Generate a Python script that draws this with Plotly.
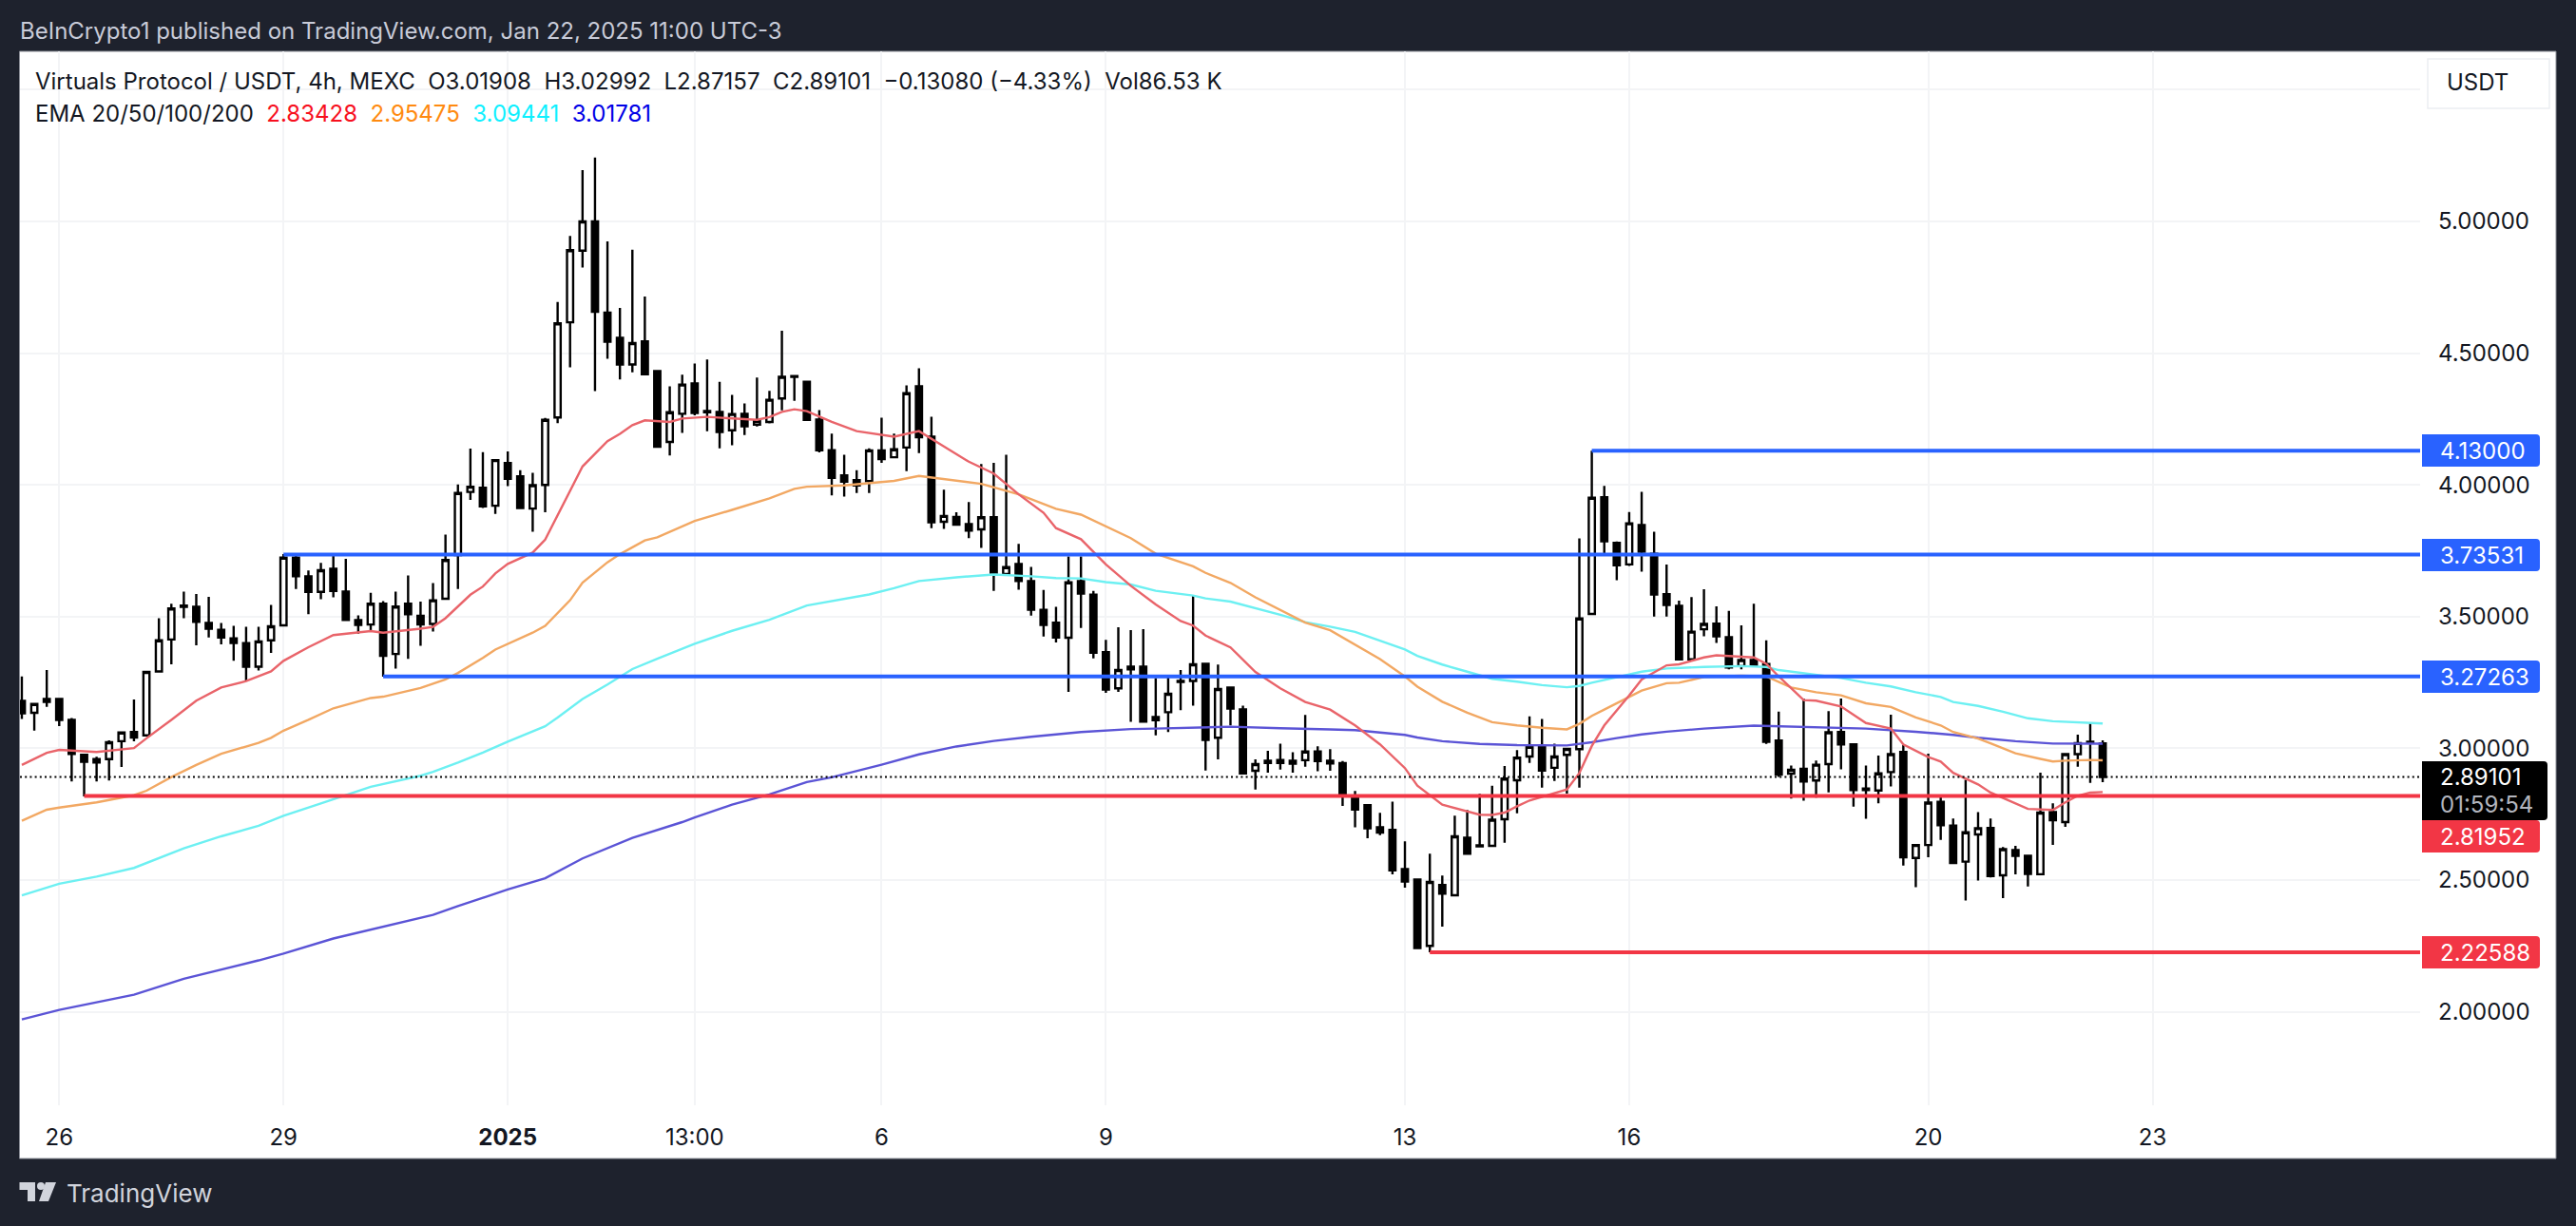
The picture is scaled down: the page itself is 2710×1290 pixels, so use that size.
import pandas as pd
import plotly.graph_objects as go

# 4h candles, Virtuals Protocol / USDT
bar_open = [
    3.180, 3.135, 3.176, 3.187, 3.108, 2.975, 2.959, 2.959, 3.027, 3.062,
    3.049, 3.292, 3.413, 3.542, 3.537, 3.476, 3.450, 3.417, 3.399, 3.310,
    3.410, 3.467, 3.724, 3.653, 3.594, 3.682, 3.595, 3.487, 3.470, 3.549,
    3.358, 3.549, 3.503, 3.472, 3.568, 3.734, 3.973, 3.989, 3.921, 4.083,
    4.032, 3.910, 4.000, 4.256, 4.617, 4.889, 5.000, 4.654, 4.558, 4.457,
    4.545, 4.432, 4.163, 4.270, 4.385, 4.280, 4.277, 4.207, 4.270, 4.229,
    4.239, 4.328, 4.413, 4.391, 4.248, 4.132, 4.036, 4.018, 4.014, 4.131,
    4.105, 4.142, 4.374, 4.183, 3.860, 3.878, 3.851, 3.831, 3.877, 3.662,
    3.700, 3.635, 3.526, 3.477, 3.420, 3.635, 3.583, 3.365, 3.228, 3.310,
    3.310, 3.119, 3.137, 3.256, 3.256, 3.321, 3.040, 3.231, 3.148, 2.915,
    2.944, 2.956, 2.953, 2.955, 2.988, 2.953, 2.944, 2.818, 2.784, 2.700,
    2.690, 2.542, 2.502, 2.250, 2.481, 2.442, 2.661, 2.632, 2.630, 2.731,
    2.879, 2.969, 3.008, 2.926, 2.975, 2.997, 3.510, 3.953, 3.780, 3.698,
    3.848, 3.738, 3.585, 3.541, 3.338, 3.452, 3.473, 3.422, 3.312, 3.335,
    3.320, 3.030, 2.904, 2.922, 2.878, 2.940, 3.062, 3.015, 2.847, 2.840,
    2.910, 2.986, 2.584, 2.633, 2.797, 2.707, 2.570, 2.673, 2.698, 2.518,
    2.614, 2.592, 2.522, 2.758, 2.720, 2.978, 3.025, 3.01908,
]
bar_high = [
    3.273, 3.168, 3.297, 3.187, 3.115, 2.975, 2.968, 3.030, 3.060, 3.185,
    3.290, 3.494, 3.549, 3.595, 3.586, 3.575, 3.476, 3.465, 3.461, 3.461,
    3.544, 3.737, 3.730, 3.675, 3.704, 3.730, 3.719, 3.505, 3.590, 3.559,
    3.595, 3.656, 3.557, 3.627, 3.811, 4.002, 4.138, 4.124, 4.094, 4.127,
    4.056, 4.046, 4.254, 4.694, 4.945, 5.195, 5.243, 4.924, 4.672, 4.893,
    4.715, 4.435, 4.374, 4.418, 4.461, 4.476, 4.391, 4.342, 4.309, 4.407,
    4.357, 4.585, 4.413, 4.393, 4.284, 4.195, 4.114, 4.056, 4.139, 4.255,
    4.195, 4.378, 4.443, 4.259, 3.982, 3.896, 3.935, 4.079, 4.084, 4.114,
    3.776, 3.689, 3.601, 3.537, 3.728, 3.728, 3.598, 3.412, 3.460, 3.449,
    3.452, 3.267, 3.275, 3.297, 3.579, 3.321, 3.318, 3.231, 3.162, 2.958,
    2.991, 3.018, 2.985, 3.127, 3.008, 2.997, 2.952, 2.838, 2.789, 2.755,
    2.798, 2.647, 2.502, 2.600, 2.517, 2.744, 2.766, 2.827, 2.858, 2.933,
    2.993, 3.121, 3.111, 3.018, 2.998, 3.797, 4.130, 3.996, 3.785, 3.897,
    3.974, 3.822, 3.698, 3.561, 3.574, 3.604, 3.539, 3.522, 3.467, 3.549,
    3.410, 3.139, 2.935, 3.189, 2.954, 3.141, 3.189, 3.015, 2.935, 2.973,
    3.128, 3.012, 2.633, 2.980, 2.823, 2.734, 2.881, 2.758, 2.734, 2.625,
    2.630, 2.596, 2.908, 2.791, 2.978, 3.052, 3.097, 3.02992,
]
bar_low = [
    3.111, 3.067, 3.157, 3.084, 2.874, 2.817, 2.874, 2.878, 2.929, 3.027,
    3.049, 3.292, 3.319, 3.494, 3.391, 3.421, 3.395, 3.332, 3.255, 3.295,
    3.362, 3.467, 3.605, 3.509, 3.566, 3.573, 3.487, 3.435, 3.443, 3.272,
    3.303, 3.340, 3.389, 3.443, 3.568, 3.605, 3.943, 3.912, 3.890, 3.995,
    3.908, 3.822, 3.896, 4.234, 4.446, 4.825, 4.356, 4.479, 4.400, 4.427,
    4.420, 4.142, 4.112, 4.197, 4.264, 4.204, 4.139, 4.150, 4.189, 4.222,
    4.233, 4.283, 4.319, 4.247, 4.123, 3.960, 3.956, 3.969, 3.969, 4.084,
    4.105, 4.052, 4.121, 3.836, 3.833, 3.845, 3.798, 3.761, 3.598, 3.662,
    3.602, 3.504, 3.424, 3.402, 3.214, 3.457, 3.341, 3.211, 3.214, 3.101,
    3.101, 3.049, 3.062, 3.145, 3.162, 2.916, 2.958, 3.087, 2.902, 2.844,
    2.908, 2.919, 2.908, 2.930, 2.913, 2.915, 2.781, 2.700, 2.659, 2.670,
    2.522, 2.471, 2.242, 2.226, 2.323, 2.442, 2.600, 2.628, 2.630, 2.642,
    2.753, 2.945, 2.851, 2.876, 2.828, 2.851, 3.510, 3.739, 3.638, 3.692,
    3.671, 3.500, 3.500, 3.338, 3.338, 3.425, 3.400, 3.300, 3.300, 3.314,
    3.017, 2.891, 2.809, 2.801, 2.813, 2.833, 2.920, 2.779, 2.733, 2.791,
    2.855, 2.555, 2.473, 2.587, 2.652, 2.563, 2.422, 2.498, 2.510, 2.431,
    2.522, 2.476, 2.522, 2.633, 2.702, 2.930, 2.869, 2.87157,
]
bar_close = [
    3.133, 3.168, 3.187, 3.108, 2.979, 2.949, 2.946, 3.023, 3.060, 3.041,
    3.290, 3.410, 3.531, 3.537, 3.480, 3.454, 3.421, 3.400, 3.310, 3.406,
    3.463, 3.724, 3.653, 3.594, 3.676, 3.597, 3.487, 3.468, 3.549, 3.351,
    3.538, 3.509, 3.470, 3.562, 3.715, 3.969, 3.993, 3.918, 4.094, 4.023,
    3.912, 3.999, 4.247, 4.613, 4.891, 5.000, 4.657, 4.543, 4.457, 4.538,
    4.420, 4.145, 4.276, 4.381, 4.273, 4.276, 4.201, 4.269, 4.222, 4.243,
    4.323, 4.410, 4.410, 4.247, 4.131, 4.027, 4.012, 3.998, 4.131, 4.098,
    4.135, 4.348, 4.181, 3.858, 3.882, 3.849, 3.826, 3.877, 3.667, 3.688,
    3.635, 3.526, 3.468, 3.421, 3.630, 3.587, 3.363, 3.223, 3.297, 3.300,
    3.101, 3.107, 3.207, 3.252, 3.319, 3.032, 3.225, 3.151, 2.905, 2.940,
    2.953, 2.944, 2.942, 2.988, 2.952, 2.943, 2.820, 2.768, 2.696, 2.680,
    2.537, 2.494, 2.242, 2.493, 2.448, 2.666, 2.600, 2.628, 2.729, 2.885,
    2.965, 3.006, 2.916, 2.969, 2.998, 3.493, 3.951, 3.786, 3.695, 3.854,
    3.746, 3.584, 3.544, 3.338, 3.443, 3.472, 3.425, 3.307, 3.335, 3.314,
    3.025, 2.900, 2.919, 2.874, 2.938, 3.061, 3.015, 2.842, 2.842, 2.905,
    2.978, 2.586, 2.633, 2.794, 2.708, 2.565, 2.681, 2.697, 2.515, 2.617,
    2.592, 2.523, 2.756, 2.727, 2.978, 3.020, 3.021, 2.89101,
]
bar_time = pd.date_range("2024-12-25 13:00", periods=len(bar_close), freq="4h")

# EMA readings: bar number, value
ema20_bar = [0, 2, 3, 5, 6, 9, 10, 12, 14, 16, 18, 20, 21, 23, 25, 28, 29, 32, 33, 34, 36, 37, 38, 39, 41, 42, 44, 45,
             47, 48, 49, 50, 52, 53, 55, 59, 60, 61, 62, 63, 65, 67, 70, 72, 74, 76, 78, 80, 82, 83, 85, 87, 89, 91,
             93, 94, 95, 97, 99, 101, 103, 105, 107, 109, 111, 112, 114, 116, 117, 118, 119, 120, 121, 124, 125, 126,
             127, 129, 130, 132, 133, 135, 136, 138, 139, 140, 141, 143, 144, 146, 148, 150, 151, 153, 154, 155, 156,
             157, 158, 160, 161, 163, 164, 165, 166, 167]
ema20 = [2.937, 2.983, 2.994, 2.988, 2.986, 3.001, 3.038, 3.108, 3.181, 3.231, 3.255, 3.292, 3.332, 3.384, 3.430,
         3.445, 3.439, 3.454, 3.461, 3.494, 3.583, 3.614, 3.664, 3.700, 3.743, 3.792, 3.978, 4.070, 4.166, 4.194,
         4.227, 4.245, 4.239, 4.252, 4.258, 4.247, 4.257, 4.277, 4.287, 4.280, 4.239, 4.204, 4.183, 4.204, 4.146,
         4.088, 4.043, 3.964, 3.894, 3.836, 3.794, 3.698, 3.617, 3.546, 3.483, 3.466, 3.428, 3.383, 3.290, 3.228,
         3.176, 3.147, 3.087, 3.015, 2.925, 2.858, 2.786, 2.760, 2.748, 2.747, 2.756, 2.780, 2.802, 2.844, 2.906,
         3.009, 3.087, 3.201, 3.261, 3.315, 3.319, 3.345, 3.353, 3.348, 3.345, 3.321, 3.273, 3.183, 3.181, 3.159,
         3.096, 3.075, 3.015, 2.967, 2.950, 2.907, 2.886, 2.863, 2.832, 2.789, 2.770, 2.766, 2.795, 2.820, 2.832,
         2.83428]
ema50_bar = [0, 2, 3, 6, 9, 10, 12, 14, 16, 19, 20, 21, 23, 25, 28, 29, 32, 34, 35, 37, 38, 41, 42, 44, 45, 47, 48,
             50, 51, 54, 57, 60, 62, 63, 66, 70, 72, 74, 77, 80, 83, 85, 87, 89, 91, 94, 95, 97, 99, 101, 103, 105,
             107, 109, 111, 112, 114, 116, 118, 120, 122, 124, 125, 126, 127, 129, 130, 132, 133, 135, 138, 140,
             142, 144, 146, 148, 150, 152, 154, 155, 157, 158, 160, 162, 163, 164, 166, 167]
ema50 = [2.725, 2.767, 2.775, 2.795, 2.822, 2.839, 2.891, 2.937, 2.979, 3.021, 3.040, 3.067, 3.108, 3.152, 3.191,
         3.196, 3.229, 3.262, 3.286, 3.343, 3.375, 3.439, 3.465, 3.562, 3.629, 3.706, 3.737, 3.789, 3.801, 3.863,
         3.905, 3.949, 3.985, 3.993, 3.998, 4.015, 4.034, 4.022, 4.004, 3.964, 3.909, 3.887, 3.842, 3.798, 3.739,
         3.691, 3.666, 3.628, 3.573, 3.525, 3.477, 3.448, 3.394, 3.339, 3.273, 3.234, 3.177, 3.135, 3.099, 3.087,
         3.078, 3.072, 3.093, 3.123, 3.147, 3.195, 3.219, 3.247, 3.249, 3.271, 3.276, 3.273, 3.231, 3.213, 3.201,
         3.171, 3.157, 3.117, 3.087, 3.062, 3.037, 3.019, 2.981, 2.960, 2.950, 2.953, 2.956, 2.95475]
ema100_bar = [0, 3, 6, 9, 13, 16, 19, 21, 24, 26, 28, 32, 33, 35, 37, 39, 42, 43, 45, 47, 49, 51, 54, 57, 60, 63,
              65, 68, 70, 72, 75, 78, 81, 83, 85, 87, 89, 91, 94, 95, 97, 99, 101, 103, 105, 107, 109, 111, 112, 114,
              116, 118, 120, 122, 124, 125, 126, 128, 130, 132, 135, 138, 140, 141, 144, 146, 148, 150, 152, 154,
              155, 157, 159, 161, 163, 165, 167]
ema100 = [2.442, 2.486, 2.513, 2.546, 2.620, 2.666, 2.706, 2.744, 2.791, 2.822, 2.854, 2.896, 2.911, 2.946,
          2.984, 3.025, 3.084, 3.117, 3.187, 3.242, 3.301, 3.340, 3.397, 3.446, 3.488, 3.542, 3.559, 3.584, 3.608,
          3.635, 3.649, 3.660, 3.653, 3.646, 3.645, 3.631, 3.622, 3.598, 3.580, 3.569, 3.557, 3.532, 3.507, 3.479,
          3.462, 3.442, 3.409, 3.375, 3.351, 3.318, 3.291, 3.264, 3.253, 3.240, 3.232, 3.237, 3.249, 3.270, 3.291,
          3.303, 3.309, 3.312, 3.309, 3.297, 3.279, 3.267, 3.249, 3.235, 3.213, 3.195, 3.176, 3.161, 3.139, 3.114,
          3.103, 3.100, 3.09441]
ema200_bar = [0, 3, 9, 13, 19, 21, 25, 33, 35, 39, 42, 45, 49, 53, 54, 57, 60, 63, 65, 69, 72, 75, 78, 81, 85, 89,
              91, 94, 97, 101, 103, 105, 107, 109, 111, 112, 114, 117, 120, 124, 126, 128, 130, 132, 135, 139, 141,
              144, 148, 152, 155, 157, 160, 163, 167]
ema200 = [1.971, 2.007, 2.065, 2.125, 2.195, 2.221, 2.278, 2.368, 2.401, 2.464, 2.507, 2.582, 2.660, 2.720, 2.738,
          2.786, 2.825, 2.872, 2.890, 2.938, 2.977, 3.007, 3.028, 3.044, 3.062, 3.073, 3.075, 3.079, 3.082, 3.076,
          3.075, 3.072, 3.069, 3.060, 3.051, 3.041, 3.027, 3.017, 3.012, 3.011, 3.023, 3.039, 3.053, 3.063, 3.075,
          3.086, 3.084, 3.081, 3.075, 3.063, 3.051, 3.040, 3.027, 3.018, 3.01781]

# drawn levels: price, first bar, colour
level_price = [4.13000, 3.73531, 3.27263, 2.81952, 2.22588]
level_bar = [126, 21, 29, 5, 113]
level_color = ["#2962ff", "#2962ff", "#2962ff", "#f23645", "#f23645"]
last_price = 2.89101

price_ticks = [2.0, 2.5, 3.0, 3.5, 4.0, 4.5, 5.0, 5.5]
price_labels = ["2.00000", "2.50000", "3.00000", "3.50000", "4.00000", "4.50000", "5.00000", ""]
time_ticks = ["2024-12-26 01:00", "2024-12-29 01:00", "2025-01-01 01:00", "2025-01-03 13:00", "2025-01-06 01:00",
              "2025-01-09 01:00", "2025-01-13 01:00", "2025-01-16 01:00", "2025-01-20 01:00", "2025-01-23 01:00"]
time_labels = ["26", "29", "<b>2025</b>", "13:00", "6", "9", "13", "16", "20", "23"]

W, H = 2710, 1290
DARK = "#1e222d"
INK = "#131722"
FONT = "Inter"
SIZE = 24
GRID = "#f3f4f6"
x_start, x_end = "2024-12-25 12:24", "2025-01-26 14:54"


def px(x):
    return x / W


def py(y):
    return 1 - y / H


def poly(points):
    return "M " + " L ".join(f"{px(x):.5f},{py(y):.5f}" for x, y in points) + " Z"


def tag_path(x0, y0, x1, y1, r=4):
    # square on the left, rounded on the right
    return (f"M {px(x0):.5f},{py(y0):.5f} L {px(x1 - r):.5f},{py(y0):.5f} "
            f"Q {px(x1):.5f},{py(y0):.5f} {px(x1):.5f},{py(y0 + r):.5f} "
            f"L {px(x1):.5f},{py(y1 - r):.5f} Q {px(x1):.5f},{py(y1):.5f} {px(x1 - r):.5f},{py(y1):.5f} "
            f"L {px(x0):.5f},{py(y1):.5f} Z")


def label(text, x, y, color=INK, size=SIZE, anchor="left"):
    return dict(text=text, x=px(x), y=py(y), xref="paper", yref="paper", xanchor=anchor, yanchor="middle",
                showarrow=False, align="left", borderpad=0, font=dict(family=FONT, size=size, color=color))


fig = go.Figure()

ema_styles = [(ema200_bar, ema200, "#5b54d6"), (ema100_bar, ema100, "#6df0f2"),
              (ema50_bar, ema50, "#f2a863"), (ema20_bar, ema20, "#e9646a")]
for bars, values, color in ema_styles:
    fig.add_trace(go.Scatter(x=[bar_time[b] for b in bars], y=values, mode="lines",
                             line=dict(color=color, width=2.4), hoverinfo="skip", showlegend=False))

for price, bar, color in zip(level_price, level_bar, level_color):
    fig.add_trace(go.Scatter(x=[bar_time[bar], x_end], y=[price, price], mode="lines",
                             line=dict(color=color, width=4), hoverinfo="skip", showlegend=False))

fig.add_trace(go.Scatter(x=[x_start, x_end], y=[last_price, last_price], mode="lines",
                         line=dict(color="#000000", width=2, dash="2px 3.2px"), hoverinfo="skip", showlegend=False))

fig.add_trace(go.Candlestick(
    x=bar_time, open=bar_open, high=bar_high, low=bar_low, close=bar_close, showlegend=False,
    increasing=dict(line=dict(color="#000000", width=2.4), fillcolor="#ffffff"),
    decreasing=dict(line=dict(color="#000000", width=2.4), fillcolor="#000000"),
    whiskerwidth=0,
))

shapes = [
    dict(type="rect", xref="paper", yref="paper", x0=px(20.5), x1=px(2689), y0=py(1219), y1=py(54),
         fillcolor="#ffffff", line=dict(color="#8a8d96", width=1), layer="below"),
    # USDT button
    dict(type="rect", xref="paper", yref="paper", x0=px(2554), x1=px(2682), y0=py(114), y1=py(62),
         fillcolor="#ffffff", line=dict(color="#eceef2", width=1.5)),
    # price tags
    dict(type="path", xref="paper", yref="paper", path=tag_path(2548, 457, 2672, 491), fillcolor="#2962ff", line_width=0),
    dict(type="path", xref="paper", yref="paper", path=tag_path(2548, 567, 2672, 601), fillcolor="#2962ff", line_width=0),
    dict(type="path", xref="paper", yref="paper", path=tag_path(2548, 695, 2672, 729), fillcolor="#2962ff", line_width=0),
    dict(type="path", xref="paper", yref="paper", path=tag_path(2548, 863, 2672, 897), fillcolor="#f23645", line_width=0),
    dict(type="path", xref="paper", yref="paper", path=tag_path(2548, 985, 2672, 1019), fillcolor="#f23645", line_width=0),
    dict(type="path", xref="paper", yref="paper", path=tag_path(2548, 801, 2680, 863), fillcolor="#000000", line_width=0),
    # TradingView mark
    dict(type="path", xref="paper", yref="paper", line_width=0, fillcolor="#d1d4dc",
         path=poly([(20.5, 1244), (37, 1244), (37, 1264), (29, 1264), (29, 1252), (20.5, 1252)])),
    dict(type="circle", xref="paper", yref="paper", line_width=0, fillcolor="#d1d4dc",
         x0=px(39), x1=px(47), y0=py(1252), y1=py(1244)),
    dict(type="path", xref="paper", yref="paper", line_width=0, fillcolor="#d1d4dc",
         path=poly([(48, 1244), (59, 1244), (51, 1264), (41, 1264)])),
]

gap = "\u00a0\u00a0"
annotations = [
    label("BeInCrypto1 published on TradingView.com, Jan 22, 2025 11:00 UTC-3", 20, 32, "#c8cbd8"),
    label(f"Virtuals Protocol / USDT, 4h, MEXC{gap}O3.01908{gap}H3.02992{gap}L2.87157{gap}C2.89101"
          f"{gap}\u22120.13080 (\u22124.33%){gap}Vol86.53\u00a0K", 36, 86),
    label(f"EMA 20/50/100/200{gap}<span style='color:#f7101e'>2.83428</span>{gap}"
          f"<span style='color:#ff8a10'>2.95475</span>{gap}<span style='color:#0ff0ff'>3.09441</span>{gap}"
          f"<span style='color:#0000e6'>3.01781</span>", 36, 120),
    label("USDT", 2573, 87),
    label("4.13000", 2566, 474, "#ffffff"),
    label("3.73531", 2566, 584, "#ffffff"),
    label("3.27263", 2566, 712, "#ffffff"),
    label("2.89101", 2566, 818, "#ffffff"),
    label("01:59:54", 2566, 846, "#b2b5be"),
    label("2.81952", 2566, 880, "#ffffff"),
    label("2.22588", 2566, 1002, "#ffffff"),
    label("TradingView", 69, 1255, "#d1d4dc", 26),
]

fig.update_layout(
    width=W, height=H, margin=dict(l=0, r=0, t=0, b=0),
    paper_bgcolor=DARK, plot_bgcolor="#ffffff", showlegend=False,
    font=dict(family=FONT, size=SIZE, color=INK),
    shapes=shapes, annotations=annotations,
    xaxis=dict(
        domain=[px(21), px(2546)], type="date", range=[x_start, x_end], rangeslider=dict(visible=False),
        tickmode="array", tickvals=time_ticks, ticktext=time_labels, tickfont=dict(family=FONT, size=SIZE, color=INK),
        ticks="", ticklabelstandoff=17, showgrid=True, gridcolor=GRID, gridwidth=1.5, zeroline=False, showline=False,
    ),
    yaxis=dict(
        domain=[py(1163), py(54)], side="right", range=[1.645, 5.6457], fixedrange=True,
        tickmode="array", tickvals=price_ticks, ticktext=price_labels, tickfont=dict(family=FONT, size=SIZE, color=INK),
        ticks="", ticklabelstandoff=18, showgrid=True, gridcolor=GRID, gridwidth=1.5, zeroline=False, showline=False,
    ),
)

fig.write_html("out.html", config=dict(displayModeBar=False),
               post_script="document.body.style.margin='0';document.body.style.overflow='hidden';")
